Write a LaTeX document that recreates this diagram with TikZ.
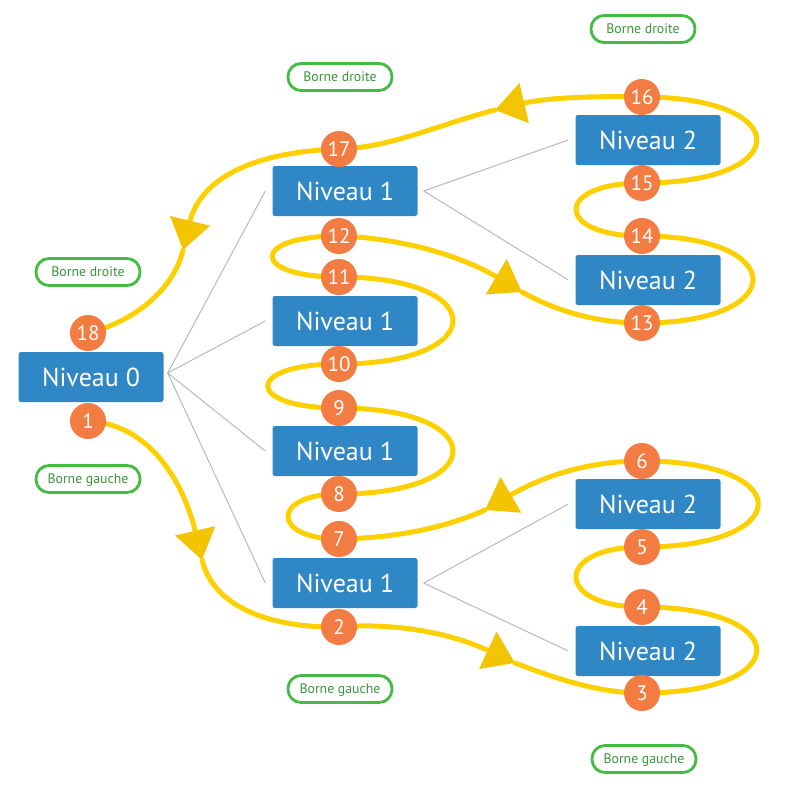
\documentclass[tikz,border=0pt]{standalone}
\usepackage{fontspec}
\setmainfont{PT Sans}
\usetikzlibrary{arrows.meta}
\pgfdeclarelayer{background}
\pgfsetlayers{background,main}
\definecolor{boxblue}{RGB}{47,135,197}
\definecolor{dotorange}{RGB}{243,124,66}
\definecolor{trailyellow}{RGB}{255,208,0}
\definecolor{tipyellow}{RGB}{243,197,0}
\definecolor{pillgreen}{RGB}{68,187,68}
\definecolor{pilltext}{RGB}{56,150,56}
\definecolor{linkgrey}{RGB}{180,186,195}
\begin{document}
\begin{tikzpicture}[x=1pt,y=-1pt,
 lvbox/.style={fill=boxblue, rounded corners=2.5pt, minimum width=145pt, minimum height=50pt, inner sep=0pt, text=white, text depth=0pt, font=\fontsize{26}{26}\selectfont},
 numdot/.style={circle, fill=dotorange, minimum size=36pt, inner sep=0pt, text=white, text depth=0pt, font=\fontsize{21}{21}\selectfont},
 pill/.style={draw=pillgreen, line width=2.8pt, rounded corners=13pt, minimum width=104pt, minimum height=27pt, inner sep=0pt, text=pilltext, text depth=0pt, font=\fontsize{13.8}{14}\selectfont},
 link/.style={draw=linkgrey, line width=1pt},
 trail/.style={draw=trailyellow, line width=5pt, line cap=round},
 headed/.style={-{Triangle[length=30pt,width=40pt,color=tipyellow]}}
]
\useasboundingbox (0,0) rectangle (800,800);

% level boxes
\node[lvbox] (n0) at (91,377) {Niveau 0};
\node[lvbox] (a1) at (345,191) {Niveau 1};
\node[lvbox] (a2) at (345,321) {Niveau 1};
\node[lvbox] (a3) at (345,451) {Niveau 1};
\node[lvbox] (a4) at (345,583) {Niveau 1};
\node[lvbox] (b1) at (648,140) {Niveau 2};
\node[lvbox] (b2) at (648,280) {Niveau 2};
\node[lvbox] (b3) at (648,504) {Niveau 2};
\node[lvbox] (b4) at (648,651) {Niveau 2};

% numbered dots
\node[numdot] (c1) at (88,421) {1};
\node[numdot] (c2) at (339,627) {2};
\node[numdot] (c3) at (642,693) {3};
\node[numdot] (c4) at (642,607) {4};
\node[numdot] (c5) at (642,547) {5};
\node[numdot] (c6) at (642,461) {6};
\node[numdot] (c7) at (339,539) {7};
\node[numdot] (c8) at (339,494) {8};
\node[numdot] (c9) at (339,408) {9};
\node[numdot] (c10) at (339,364) {10};
\node[numdot] (c11) at (339,277) {11};
\node[numdot] (c12) at (339,236) {12};
\node[numdot] (c13) at (642,323) {13};
\node[numdot] (c14) at (642,236) {14};
\node[numdot] (c15) at (642,183) {15};
\node[numdot] (c16) at (642,97) {16};
\node[numdot] (c17) at (339,149) {17};
\node[numdot] (c18) at (88,333) {18};

% bounds
\node[pill] (g1) at (643,29) {Borne droite};
\node[pill] (g2) at (340,77) {Borne droite};
\node[pill] (g3) at (88,272) {Borne droite};
\node[pill] (g4) at (88,479) {Borne gauche};
\node[pill] (g5) at (340,689) {Borne gauche};
\node[pill] (g6) at (644,759) {Borne gauche};

% arrow tip points
\coordinate (p1) at (202,560);
\coordinate (p2) at (515,663);
\coordinate (p3) at (485,510);
\coordinate (p4) at (522,292);
\coordinate (p5) at (495,110);
\coordinate (p6) at (183,250);

\begin{pgfonlayer}{background}
\fill[white] (0,0) rectangle (800,800);
% tree links
\draw[link] ([shift={(4,-4)}]n0.east) -- ([xshift=-7pt]a1.west);
\draw[link] ([shift={(4,-4)}]n0.east) -- ([xshift=-7pt]a2.west);
\draw[link] ([shift={(4,-4)}]n0.east) -- ([xshift=-7pt]a3.west);
\draw[link] ([shift={(4,-4)}]n0.east) -- ([xshift=-7pt]a4.west);
\draw[link] ([xshift=6pt]a1.east) -- ([xshift=-7pt]b1.west);
\draw[link] ([xshift=6pt]a1.east) -- ([xshift=-7pt]b2.west);
\draw[link] ([xshift=6pt]a4.east) -- ([xshift=-7pt]b3.west);
\draw[link] ([xshift=6pt]a4.east) -- ([xshift=-7pt]b4.west);

% traversal trail
\draw[trail,headed] (c1.center) .. controls (160,425) and (188,500) .. (p1);
\draw[trail] (p1) .. controls (215,612) and (280,628) .. (c2.center);
\draw[trail,headed] (c2.center) .. controls (400,622) and (455,635) .. (p2);
\draw[trail] (p2) .. controls (560,680) and (600,693) .. (c3.center);
\draw[trail] (c3.center) .. controls (795,693) and (795,607) .. (c4.center);
\draw[trail] (c4.center) .. controls (554,607) and (554,547) .. (c5.center);
\draw[trail] (c5.center) .. controls (797,547) and (797,461) .. (c6.center);
\draw[trail,headed] (c6.center) .. controls (590,461) and (545,475) .. (p3);
\draw[trail] (p3) .. controls (440,530) and (390,538) .. (c7.center);
\draw[trail] (c7.center) .. controls (271,539) and (271,494) .. (c8.center);
\draw[trail] (c8.center) .. controls (491,494) and (491,408) .. (c9.center);
\draw[trail] (c9.center) .. controls (244,408) and (244,364) .. (c10.center);
\draw[trail] (c10.center) .. controls (491,364) and (491,277) .. (c11.center);
\draw[trail] (c11.center) .. controls (250,277) and (250,236) .. (c12.center);
\draw[trail,headed] (c12.center) .. controls (400,238) and (460,255) .. (p4);
\draw[trail] (p4) .. controls (560,313) and (600,323) .. (c13.center);
\draw[trail] (c13.center) .. controls (790,323) and (790,236) .. (c14.center);
\draw[trail] (c14.center) .. controls (554,236) and (554,183) .. (c15.center);
\draw[trail] (c15.center) .. controls (795,183) and (795,97) .. (c16.center);
\draw[trail,headed] (c16.center) .. controls (600,96) and (550,97) .. (p5);
\draw[trail] (p5) .. controls (440,124) and (390,148) .. (c17.center);
\draw[trail,headed] (c17.center) .. controls (250,152) and (200,180) .. (p6);
\draw[trail] (p6) .. controls (175,285) and (140,320) .. (c18.center);
\end{pgfonlayer}
\end{tikzpicture}
\end{document}
